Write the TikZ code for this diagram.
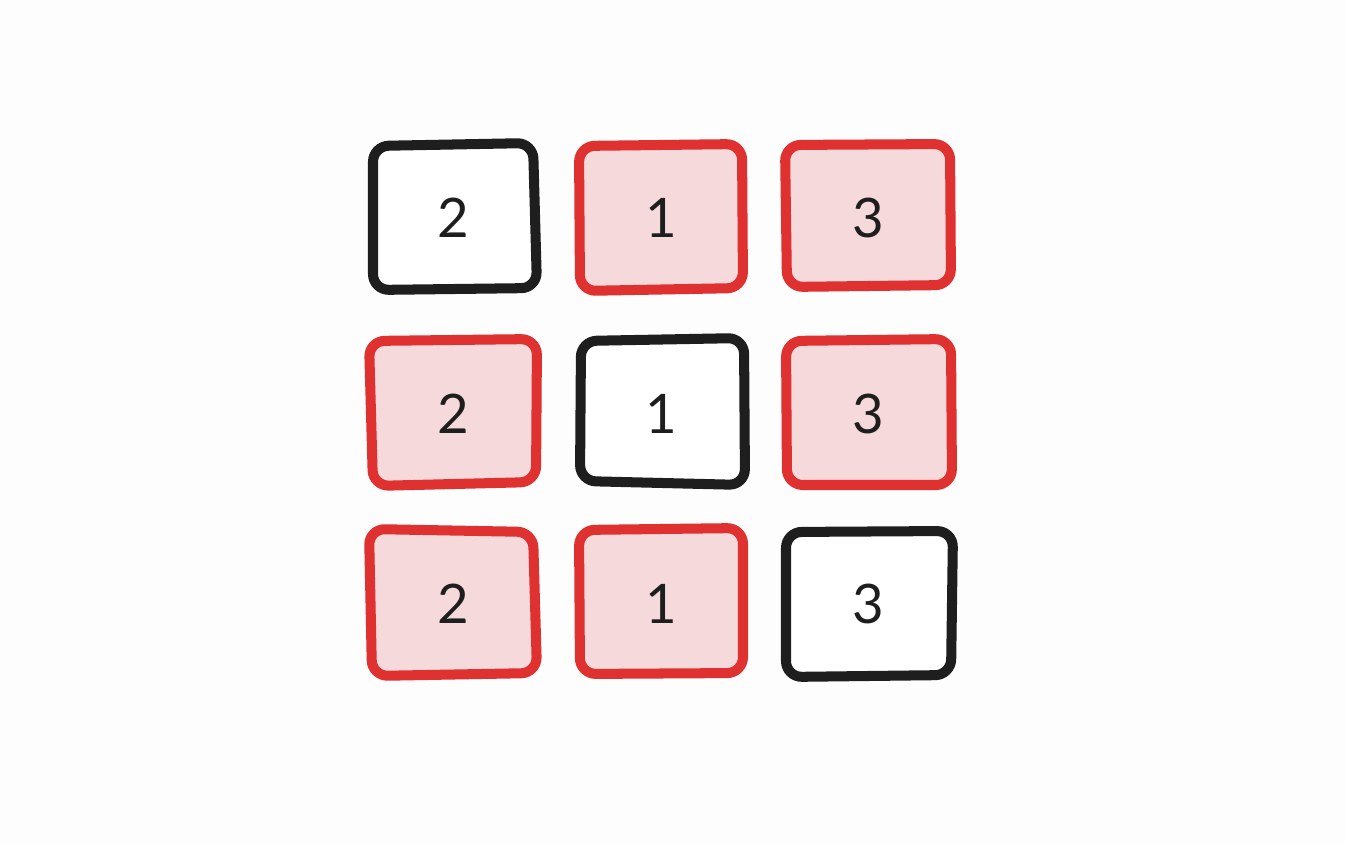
\documentclass[tikz,border=0pt]{standalone}
\usepackage{fontspec}
\setmainfont{Lato}
\definecolor{inkblack}{HTML}{1E1E1E}
\definecolor{inkred}{HTML}{E03131}
\definecolor{pinkfill}{HTML}{F5D9DB}
\definecolor{paper}{HTML}{FDFDFD}
\tikzset{
  blackbox/.style={draw=inkblack, fill=white, line width=2.85pt, rounded corners=4.5pt, line join=round},
  redbox/.style={draw=inkred, fill=pinkfill, line width=2.85pt, rounded corners=4.5pt, line join=round},
  digit/.style={text=inkblack, font=\fontsize{15.5}{18}\selectfont, inner sep=0pt}
}
\begin{document}
\begin{tikzpicture}[x=0.01cm, y=-0.01cm]
  \fill[paper] (0,0) rectangle (1345,843);
  \useasboundingbox (0,0) rectangle (1345,843);
  % row 1
  \draw[blackbox] (373,146) -- (533,143) -- (537,288) -- (373,290) -- cycle;
  \draw[redbox] (579,146) -- (742,144) -- (743,288) -- (580,291) -- cycle;
  \draw[redbox] (785,145) -- (950,144) -- (951,285) -- (787,287) -- cycle;
  % row 2
  \draw[redbox] (369,341) -- (537,339) -- (536,482) -- (373,486) -- cycle;
  \draw[blackbox] (581,341) -- (744,338) -- (745,485) -- (580,481) -- cycle;
  \draw[redbox] (786,341) -- (951,339) -- (952,485) -- (787,485) -- cycle;
  % row 3
  \draw[redbox] (369,529) -- (533,532) -- (537,673) -- (372,676) -- cycle;
  \draw[redbox] (579,530) -- (743,528) -- (743,673) -- (580,674) -- cycle;
  \draw[blackbox] (786,532) -- (953,531) -- (951,675) -- (786,677) -- cycle;
  % digits
  \node[digit] (n11) at (453,218) {2};
  \node[digit] (n12) at (661,218) {1};
  \node[digit] (n13) at (868,218) {3};
  \node[digit] (n21) at (453,414) {2};
  \node[digit] (n22) at (661,414) {1};
  \node[digit] (n23) at (868,414) {3};
  \node[digit] (n31) at (453,604) {2};
  \node[digit] (n32) at (661,604) {1};
  \node[digit] (n33) at (868,604) {3};
\end{tikzpicture}
\end{document}
